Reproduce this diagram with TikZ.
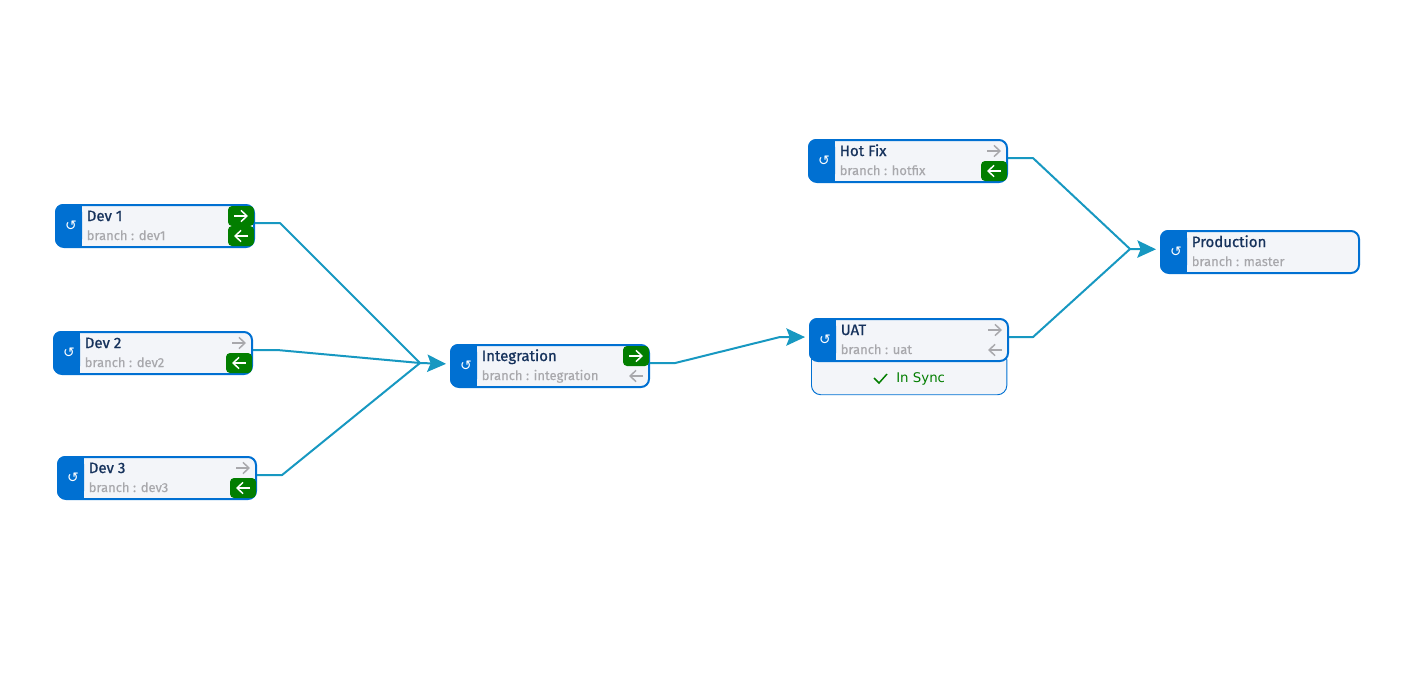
\documentclass[tikz,border=0pt]{standalone}
\usepackage{fontspec}
\setmainfont{Fira Sans}[FakeBold=0.25]
\newfontfamily\titlefont[FakeBold=0.9]{Fira Sans}
\newfontfamily\symfont{DejaVu Sans}
\usetikzlibrary{calc,arrows.meta,positioning}
\definecolor{cardblue}{HTML}{0070D2}
\definecolor{cardfill}{HTML}{F3F5F9}
\definecolor{cardtitle}{HTML}{16325C}
\definecolor{cardgrey}{HTML}{A8A8AC}
\definecolor{okgreen}{HTML}{027E00}
\definecolor{flowblue}{HTML}{1798C1}
\tikzset{
  cardbox/.style={draw=cardblue, line width=1.5pt, fill=cardfill, rounded corners=6pt, minimum width=148.5pt, minimum height=31.5pt, inner sep=0pt, anchor=north west},
  cardtext/.style={font=\titlefont\fontsize{11.25}{12}\selectfont, text=cardtitle, anchor=base west, inner sep=0pt},
  cardbranch/.style={font=\fontsize{9.75}{11}\selectfont, text=cardgrey, anchor=base west, inner sep=0pt},
  cardicon/.style={font=\symfont\fontsize{10.5}{10}\selectfont, text=white, inner sep=0pt},
  flowline/.style={draw=flowblue, line width=1.5pt, line join=round},
  flowarrow/.style={flowline, -{Stealth[length=14pt, width=13pt, inset=2.5pt]}, shorten >=3pt},
  syncbox/.style={draw=cardblue, line width=0.7pt, fill=cardfill, rounded corners=7pt, minimum width=146.5pt, minimum height=33.2pt, inner sep=0pt, anchor=north west},
  syncarrow/.style={line width=1.1pt, -{Straight Barb[length=4.5pt, width=8.5pt]}},
  syncchip/.style={fill=okgreen, rounded corners=3pt, minimum width=19.5pt, minimum height=15pt, inner sep=0pt},
}
% title, branch and the two status arrows of a card
\newcommand{\branchcard}[8]{
  \node[cardbox] (#1) at (#2,#3-1) {};
  \fill[cardblue, rounded corners=6pt] (#2,#3-1) rectangle ++(27,43);
  \fill[cardblue] (#2+15,#3-1) rectangle ++(12,43);
  \node[cardicon] (#1-icon) at (#2+16,#3+21) {↺};
  \node[cardtext] (#1-title) at (#2+31.5,#3+16) {#4};
  \node[cardbranch] (#1-branch) at (#2+31.5,#3+35) {#5};
  \coordinate (#1-out) at (#2+186,#3+11);
  \coordinate (#1-in) at (#2+186,#3+31);
  \ifnum#6=1
    \node[syncchip] at (#1-out) {};
    \draw[syncarrow, white] ($(#1-out)+(-7,0)$) -- ($(#1-out)+(7,0)$);
  \else
    \draw[syncarrow, cardgrey] ($(#1-out)+(-7,0)$) -- ($(#1-out)+(7,0)$);
  \fi
  \ifnum#7=1
    \node[syncchip] at (#1-in) {};
    \draw[syncarrow, white] ($(#1-in)+(7,0)$) -- ($(#1-in)+(-7,0)$);
  \else
    \ifnum#8=1
    \draw[syncarrow, cardgrey] ($(#1-in)+(7,0)$) -- ($(#1-in)+(-7,0)$);
    \fi
  \fi
}
\begin{document}
\begin{tikzpicture}[x=0.75pt, y=-0.75pt]
\useasboundingbox (0,0) rectangle (1408,678);
% sync panel goes under the UAT card
\node[syncbox] (sync) at (811,350) {};
\draw[line width=1.1pt, okgreen] (874,378) -- (879,383) -- (887,374);
\node[font=\symfont\fontsize{10}{11}\selectfont, text=okgreen, anchor=base west, inner sep=0pt] (synctext) at (896,382) {In Sync};
\coordinate (join1) at (420,363);
\coordinate (join2) at (1130,249);
\foreach \name/\x/\y/\lab/\br/\o/\i/\g in {
  dev1/55/205/{Dev 1}/{branch : dev1}/1/1/0,
  dev2/53/332/{Dev 2}/{branch : dev2}/0/1/0,
  dev3/57/457/{Dev 3}/{branch : dev3}/0/1/0,
  integration/450/345/{Integration}/{branch : integration}/1/0/1,
  hotfix/808/140/{Hot Fix}/{branch : hotfix}/0/1/0,
  uat/809/319/{UAT}/{branch : uat}/0/0/1}{
  \branchcard{\name}{\x}{\y}{\lab}{\br}{\o}{\i}{\g}
}
% production has no status arrows
\node[cardbox] (production) at (1160,230) {};
\fill[cardblue, rounded corners=6pt] (1160,230) rectangle ++(27,43);
\fill[cardblue] (1175,230) rectangle ++(12,43);
\node[cardicon] (production-icon) at (1176,252) {↺};
\node[cardtext] (production-title) at (1191.5,247) {Production};
\node[cardbranch] (production-branch) at (1191.5,266) {branch : master};
% flows
\draw[flowline] ([yshift=2.2pt]dev1.east) -- ++(25,0) -- (join1);
\draw[flowline] ([yshift=2.2pt]dev2.east) -- ++(25,0) -- (join1);
\draw[flowline] ([yshift=2.2pt]dev3.east) -- ++(25,0) -- (join1);
\draw[flowarrow] (join1) -- ([yshift=1.5pt]integration.west);
\draw[flowline] ([yshift=2.2pt]integration.east) -- ++(25,0) -- (780,337);
\draw[flowarrow] (780,337) -- ([yshift=2.2pt]uat.west);
\draw[flowline] ([yshift=2.2pt]hotfix.east) -- ++(25,0) -- (join2);
\draw[flowline] ([yshift=2.2pt]uat.east) -- ++(24,0) -- (join2);
\draw[flowarrow] (join2) -- ([yshift=2pt]production.west);
\end{tikzpicture}
\end{document}
